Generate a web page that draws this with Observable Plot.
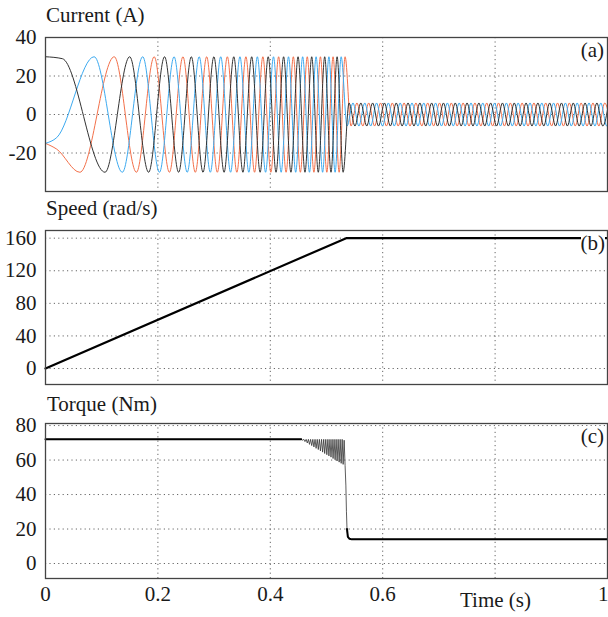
<!DOCTYPE html>
<html><head><meta charset="utf-8">
<script src="https://cdn.jsdelivr.net/npm/d3@7"></script>
<script src="https://cdn.jsdelivr.net/npm/@observablehq/plot@0.6"></script>
<style>
body{margin:0;background:#fff;}
#root{position:relative;width:608px;height:617px;font-family:'Liberation Serif','DejaVu Serif',serif;color:#1a1a1a;overflow:hidden}
.lbl{position:absolute;font-size:21px;line-height:21px;white-space:nowrap;font-family:'Liberation Serif','DejaVu Serif',serif}
.panel{position:absolute;left:0}
.panel text{font-family:'Liberation Serif','DejaVu Serif',serif}
</style></head><body><div id="root"></div>
<script>
// ---- axis ticks ----
const timeTicks = [0, 0.2, 0.4, 0.6, 1];
const timeTickLabels = ["0", "0.2", "0.4", "0.6", "1"];
const timeGrid = [0.2, 0.4, 0.6, 0.8];
const currentTicks = [40, 20, 0, -20];
const speedTicks = [160, 120, 80, 40, 0];
const torqueTicks = [80, 60, 40, 20, 0];

// ---- current (A): successive phase extrema times ----
const phaseOrder = ["A", "C", "B"];          // phase that peaks/troughs at each successive extremum
const ampLarge = 30, ampSmall = 6;
const extremaLarge = [
 0.0612,0.0865,0.1059,0.1223,0.1367,0.1498,0.1618,0.1730,0.1835,0.1934,
 0.2028,0.2119,0.2205,0.2288,0.2369,0.2446,0.2522,0.2595,0.2666,0.2735,
 0.2803,0.2868,0.2933,0.2996,0.3058,0.3118,0.3178,0.3236,0.3293,0.3350,
 0.3405,0.3460,0.3513,0.3566,0.3618,0.3669,0.3720,0.3770,0.3819,0.3868,
 0.3916,0.3963,0.4010,0.4057,0.4102,0.4148,0.4193,0.4237,0.4281,0.4324,
 0.4367,0.4410,0.4452,0.4494,0.4535,0.4576,0.4617,0.4658,0.4697,0.4737,
 0.4776,0.4815,0.4854,0.4892,0.4931,0.4968,0.5006,0.5043,0.5080,0.5117,
 0.5153,0.5189,0.5225,0.5261,0.5296,0.5331];
const extremaSmall = [
 0.5366,0.5401,0.5436,0.5471,0.5506,0.5541,0.5576,0.5611,0.5646,0.5681,
 0.5716,0.5751,0.5786,0.5821,0.5856,0.5891,0.5926,0.5961,0.5996,0.6031,
 0.6066,0.6101,0.6136,0.6171,0.6206,0.6241,0.6276,0.6311,0.6346,0.6381,
 0.6416,0.6451,0.6486,0.6521,0.6556,0.6591,0.6626,0.6661,0.6696,0.6731,
 0.6766,0.6801,0.6836,0.6871,0.6906,0.6941,0.6976,0.7011,0.7046,0.7081,
 0.7116,0.7151,0.7186,0.7221,0.7256,0.7291,0.7326,0.7361,0.7396,0.7431,
 0.7466,0.7501,0.7536,0.7571,0.7606,0.7641,0.7676,0.7711,0.7746,0.7781,
 0.7816,0.7851,0.7886,0.7921,0.7956,0.7991,0.8026,0.8061,0.8096,0.8131,
 0.8166,0.8201,0.8236,0.8271,0.8306,0.8341,0.8376,0.8411,0.8446,0.8481,
 0.8516,0.8551,0.8586,0.8621,0.8656,0.8691,0.8726,0.8761,0.8796,0.8831,
 0.8866,0.8901,0.8936,0.8971,0.9006,0.9041,0.9076,0.9111,0.9146,0.9181,
 0.9216,0.9251,0.9286,0.9321,0.9356,0.9391,0.9426,0.9461,0.9496,0.9531,
 0.9566,0.9601,0.9636,0.9671,0.9706,0.9741,0.9776,0.9811,0.9846,0.9881,
 0.9916,0.9951,0.9986,1.0021,1.0056,1.0091];
const phaseAStartT = [0, 0.03], phaseAStartV = [30, 29];
const phaseBStartT = [0, 0.02], phaseBStartV = [-15, -12];
const phaseCStartT = [0, 0.02], phaseCStartV = [-15, -18];
const phaseColors = {A: "#333333", B: "#3daaf0", C: "#f3704a"};

// ---- speed (rad/s) ----
const speedT = [0, 0.535, 1];
const speedV = [0, 160, 160];

// ---- torque (Nm) ----
const torqueT = [0,0.455,0.4556,0.4576,0.4597,0.4617,0.4638,0.4658,0.4678,0.4697,0.4717,0.4737,0.4757,0.4776,
 0.4796,0.4815,0.4835,0.4854,0.4873,0.4892,0.4912,0.4931,0.4950,0.4968,0.4987,0.5006,0.5025,0.5043,0.5062,0.5080,
 0.5099,0.5117,0.5135,0.5153,0.5171,0.5189,0.5207,0.5225,0.5243,0.5261,0.5279,0.5296,0.5314,0.5331,
 0.5345,0.5355,0.5365,0.5380,0.5410,0.5450,1];
const torqueV = [72,72,72,71.5,72,70.7,72,69.9,72,69.1,72,68.4,72,67.6,
 72,66.8,72,66.1,72,65.3,72,64.6,72,63.8,72,63.1,72,62.4,72,61.7,
 72,60.9,72,60.2,72,59.5,72,58.8,72,58.1,72,57.5,71.5,56.8,
 45,30,20,15.5,14.3,14,14];

// ---- build tables ----
const current = [];
phaseAStartT.forEach((t,i)=>current.push({t, v: phaseAStartV[i], phase:"A"}));
phaseBStartT.forEach((t,i)=>current.push({t, v: phaseBStartV[i], phase:"B"}));
phaseCStartT.forEach((t,i)=>current.push({t, v: phaseCStartV[i], phase:"C"}));
extremaLarge.forEach((t,i)=>{const n=i+1; current.push({t, v:(n%2?-1:1)*ampLarge, phase:phaseOrder[n%3]});});
extremaSmall.forEach((t,i)=>{const n=extremaLarge.length+1+i; current.push({t, v:(n%2?-1:1)*ampSmall, phase:phaseOrder[n%3]});});
current.sort((a,b)=>a.t-b.t);
const speed = speedT.map((t,i)=>({t, v: speedV[i]}));
const torque = torqueT.map((t,i)=>({t, v: torqueV[i]}));
const timeTickRows = timeTicks.map((t,i)=>({t, label: timeTickLabels[i]}));

const fam = "'Liberation Serif','DejaVu Serif',serif";
const font = {fontSize:"21px", fontFamily: fam, color:"#1a1a1a", background:"transparent", overflow:"visible"};
const gridStyle = {stroke:"#666", strokeDasharray:"1.2,3.2", strokeWidth:1};
const fmt = d => String(d);

function panel(top, height, marginBottom, ydomain, yticks, marks) {
  const p = Plot.plot({
    width: 608, height, marginLeft: 45, marginRight: 1, marginTop: 10, marginBottom,
    style: font,
    x: {domain:[0,1], axis:null},
    y: {domain: ydomain, ticks: yticks, tickFormat: fmt, tickSize:0, tickPadding:9, label:null},
    marks: [
      Plot.ruleX(timeGrid, gridStyle),
      Plot.ruleY(yticks, gridStyle),
      ...marks,
      Plot.frame({stroke:"#444", strokeWidth:1.3})
    ]
  });
  p.classList.add("panel");
  p.style.top = top + "px";
  return p;
}

const root = document.getElementById("root");
root.append(panel(27, 174, 10, [-40, 40], currentTicks, [
  Plot.line(current.filter(d=>d.phase==="C"), {x:"t", y:"v", stroke: phaseColors.C, strokeWidth:1, curve:"monotone-x", clip:true}),
  Plot.line(current.filter(d=>d.phase==="B"), {x:"t", y:"v", stroke: phaseColors.B, strokeWidth:1, curve:"monotone-x", clip:true}),
  Plot.line(current.filter(d=>d.phase==="A"), {x:"t", y:"v", stroke: phaseColors.A, strokeWidth:1, curve:"monotone-x", clip:true})
]));
root.append(panel(220, 174, 10, [-19.6, 169.4], speedTicks, [
  Plot.line(speed, {x:"t", y:"v", stroke:"#000", strokeWidth:2.2})
]));
root.append(panel(413, 204, 39, [-8.7, 81.2], torqueTicks, [
  Plot.line(torque, {x:"t", y:"v", stroke:"#333", strokeWidth:0.8}),
  Plot.line(torque, {x:"t", y:"v", z: d => d.t < 0.5 ? "pre" : "post", filter: d => d.t <= 0.455 || d.t >= 0.5365, stroke:"#000", strokeWidth:2}),
  Plot.text(timeTickRows.filter(d => d.t < 1), {x:"t", text:"label", frameAnchor:"bottom", dy: 22, fill:"#1a1a1a"}),
  Plot.text(timeTickRows.filter(d => d.t === 1), {x:"t", text:"label", frameAnchor:"bottom", dy: 22, textAnchor:"end", dx: 1, fill:"#1a1a1a"})
]));

const labels = [
  ["Current (A)", 46, 5, null], ["Speed (rad/s)", 46, 198, null], ["Torque (Nm)", 47, 394, null],
  ["(a)", null, 40, 4], ["(b)", null, 233, 3], ["(c)", null, 426, 4], ["Time (s)", 460, 590, null]
];
for (const [txt, left, top, right] of labels) {
  const d = document.createElement("div");
  d.className = "lbl"; d.textContent = txt; d.style.top = top + "px";
  if (left !== null) d.style.left = left + "px";
  if (right !== null) { d.style.right = right + "px"; d.style.background = "#fff"; }
  root.append(d);
}
</script></body></html>
